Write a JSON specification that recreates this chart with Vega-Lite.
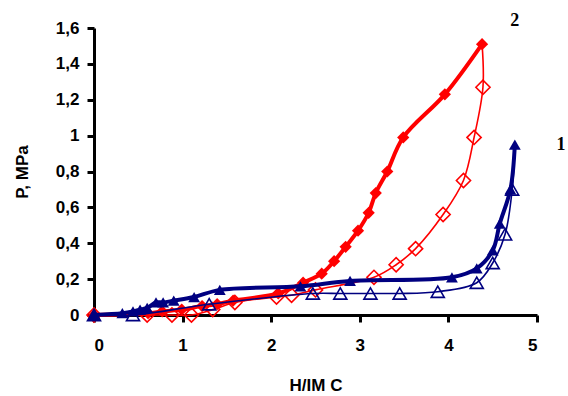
{
  "$schema": "https://vega.github.io/schema/vega-lite/v6.json",
  "autosize": {"type": "none"},
  "width": 443,
  "height": 287,
  "padding": {"left": 94, "top": 28, "right": 31, "bottom": 81},
  "background": "white",
  "config": {
    "view": {"stroke": null},
    "font": "Liberation Sans",
    "axis": {
      "grid": false,
      "domainColor": "black",
      "domainWidth": 3,
      "tickColor": "black",
      "tickWidth": 3,
      "tickSize": 7,
      "labelFont": "Liberation Sans",
      "labelFontWeight": "bold",
      "labelFontSize": 17,
      "labelColor": "black",
      "titleFont": "Liberation Sans",
      "titleFontWeight": "bold",
      "titleFontSize": 17,
      "titleColor": "black"
    }
  },
  "datasets": {
    "curves": [
      {"series": "2a", "order": 1, "x": 0, "y": 0},
      {"series": "2a", "order": 2, "x": 0.61, "y": 0.01},
      {"series": "2a", "order": 3, "x": 0.77, "y": 0.02},
      {"series": "2a", "order": 4, "x": 0.99, "y": 0.03},
      {"series": "2a", "order": 5, "x": 1.22, "y": 0.05},
      {"series": "2a", "order": 6, "x": 1.39, "y": 0.06},
      {"series": "2a", "order": 7, "x": 1.57, "y": 0.08},
      {"series": "2a", "order": 8, "x": 2.08, "y": 0.12},
      {"series": "2a", "order": 9, "x": 2.36, "y": 0.18},
      {"series": "2a", "order": 10, "x": 2.57, "y": 0.23},
      {"series": "2a", "order": 11, "x": 2.71, "y": 0.3},
      {"series": "2a", "order": 12, "x": 2.84, "y": 0.38},
      {"series": "2a", "order": 13, "x": 2.98, "y": 0.47},
      {"series": "2a", "order": 14, "x": 3.1, "y": 0.57},
      {"series": "2a", "order": 15, "x": 3.18, "y": 0.68},
      {"series": "2a", "order": 16, "x": 3.31, "y": 0.8},
      {"series": "2a", "order": 17, "x": 3.49, "y": 0.99},
      {"series": "2a", "order": 18, "x": 3.96, "y": 1.23},
      {"series": "2a", "order": 19, "x": 4.38, "y": 1.51},

      {"series": "2d", "order": 1, "x": 4.38, "y": 1.51},
      {"series": "2d", "order": 2, "x": 4.39, "y": 1.27},
      {"series": "2d", "order": 3, "x": 4.29, "y": 0.99},
      {"series": "2d", "order": 4, "x": 4.17, "y": 0.75},
      {"series": "2d", "order": 5, "x": 3.94, "y": 0.56},
      {"series": "2d", "order": 6, "x": 3.63, "y": 0.37},
      {"series": "2d", "order": 7, "x": 3.41, "y": 0.28},
      {"series": "2d", "order": 8, "x": 3.16, "y": 0.21},
      {"series": "2d", "order": 9, "x": 2.5, "y": 0.14},
      {"series": "2d", "order": 10, "x": 2.23, "y": 0.11},
      {"series": "2d", "order": 11, "x": 2.06, "y": 0.1},
      {"series": "2d", "order": 12, "x": 1.59, "y": 0.07},
      {"series": "2d", "order": 13, "x": 1.34, "y": 0.03},
      {"series": "2d", "order": 14, "x": 1.1, "y": 0.0},
      {"series": "2d", "order": 15, "x": 0.88, "y": 0.0},
      {"series": "2d", "order": 16, "x": 0.6, "y": 0.0},
      {"series": "2d", "order": 17, "x": 0, "y": 0},

      {"series": "1a", "order": 1, "x": 0, "y": 0},
      {"series": "1a", "order": 2, "x": 0.32, "y": 0.01},
      {"series": "1a", "order": 3, "x": 0.44, "y": 0.02},
      {"series": "1a", "order": 4, "x": 0.52, "y": 0.03},
      {"series": "1a", "order": 5, "x": 0.6, "y": 0.04},
      {"series": "1a", "order": 6, "x": 0.7, "y": 0.07},
      {"series": "1a", "order": 7, "x": 0.78, "y": 0.07},
      {"series": "1a", "order": 8, "x": 0.9, "y": 0.08},
      {"series": "1a", "order": 9, "x": 1.13, "y": 0.1},
      {"series": "1a", "order": 10, "x": 1.42, "y": 0.14},
      {"series": "1a", "order": 11, "x": 2.33, "y": 0.16},
      {"series": "1a", "order": 12, "x": 2.89, "y": 0.19},
      {"series": "1a", "order": 13, "x": 4.04, "y": 0.21},
      {"series": "1a", "order": 14, "x": 4.32, "y": 0.26},
      {"series": "1a", "order": 15, "x": 4.5, "y": 0.36},
      {"series": "1a", "order": 16, "x": 4.58, "y": 0.51},
      {"series": "1a", "order": 17, "x": 4.7, "y": 0.7},
      {"series": "1a", "order": 18, "x": 4.75, "y": 0.95},

      {"series": "1d", "order": 1, "x": 4.75, "y": 0.95},
      {"series": "1d", "order": 2, "x": 4.72, "y": 0.7},
      {"series": "1d", "order": 3, "x": 4.64, "y": 0.45},
      {"series": "1d", "order": 4, "x": 4.5, "y": 0.29},
      {"series": "1d", "order": 5, "x": 4.32, "y": 0.18},
      {"series": "1d", "order": 6, "x": 3.88, "y": 0.13},
      {"series": "1d", "order": 7, "x": 3.45, "y": 0.12},
      {"series": "1d", "order": 8, "x": 3.12, "y": 0.12},
      {"series": "1d", "order": 9, "x": 2.78, "y": 0.12},
      {"series": "1d", "order": 10, "x": 2.47, "y": 0.12},
      {"series": "1d", "order": 11, "x": 1.3, "y": 0.06},
      {"series": "1d", "order": 12, "x": 0.44, "y": 0.0},
      {"series": "1d", "order": 13, "x": 0, "y": 0}
    ],
    "labels": [
      {"text": "2", "x": 4.75, "y": 1.64},
      {"text": "1", "x": 5.27, "y": 0.95}
    ]
  },
  "data": {"name": "curves"},
  "encoding": {
    "x": {
      "field": "x", "type": "quantitative",
      "scale": {"domain": [0, 5], "nice": false, "zero": false},
      "axis": {"values": [0, 1, 2, 3, 4, 5], "format": "~g", "title": "H/IM C", "labelPadding": 15, "titlePadding": 24}
    },
    "y": {
      "field": "y", "type": "quantitative",
      "scale": {"domain": [0, 1.6], "nice": false, "zero": false},
      "axis": {"values": [0, 0.2, 0.4, 0.6, 0.8, 1, 1.2, 1.4, 1.6], "labelExpr": "replace(format(datum.value, '~g'), '.', ',')", "title": "P, MPa", "labelPadding": 8, "titlePadding": 24}
    },
    "order": {"field": "order", "type": "quantitative"}
  },
  "layer": [
    {"transform": [{"filter": "datum.series === '2d'"}], "mark": {"type": "line", "color": "#FF0000", "strokeWidth": 1.6, "interpolate": "catmull-rom"}},
    {"transform": [{"filter": "datum.series === '2d' && datum.order > 1"}], "mark": {"type": "point", "shape": "diamond", "filled": false, "color": "#FF0000", "strokeWidth": 1.6, "size": 200, "opacity": 1}},
    {"transform": [{"filter": "datum.series === '2a'"}], "mark": {"type": "line", "color": "#FF0000", "strokeWidth": 4, "interpolate": "catmull-rom"}},
    {"transform": [{"filter": "datum.series === '2a'"}], "mark": {"type": "point", "shape": "diamond", "filled": true, "color": "#FF0000", "size": 150, "opacity": 1}},
    {"transform": [{"filter": "datum.series === '1d'"}], "mark": {"type": "line", "color": "#000080", "strokeWidth": 1.6, "interpolate": "catmull-rom"}},
    {"transform": [{"filter": "datum.series === '1d' && datum.order > 1"}], "mark": {"type": "point", "shape": "triangle-up", "filled": false, "color": "#000080", "strokeWidth": 1.6, "size": 170, "opacity": 1}},
    {"transform": [{"filter": "datum.series === '1a'"}], "mark": {"type": "line", "color": "#000080", "strokeWidth": 4, "interpolate": "catmull-rom"}},
    {"transform": [{"filter": "datum.series === '1a'"}], "mark": {"type": "point", "shape": "triangle-up", "filled": true, "color": "#000080", "size": 140, "opacity": 1}},
    {
      "data": {"name": "labels"},
      "mark": {"type": "text", "font": "Liberation Serif", "fontWeight": "bold", "fontSize": 18, "color": "black", "align": "center", "baseline": "middle"},
      "encoding": {
        "x": {"field": "x", "type": "quantitative"},
        "y": {"field": "y", "type": "quantitative"},
        "text": {"field": "text"},
        "order": null
      }
    }
  ]
}
